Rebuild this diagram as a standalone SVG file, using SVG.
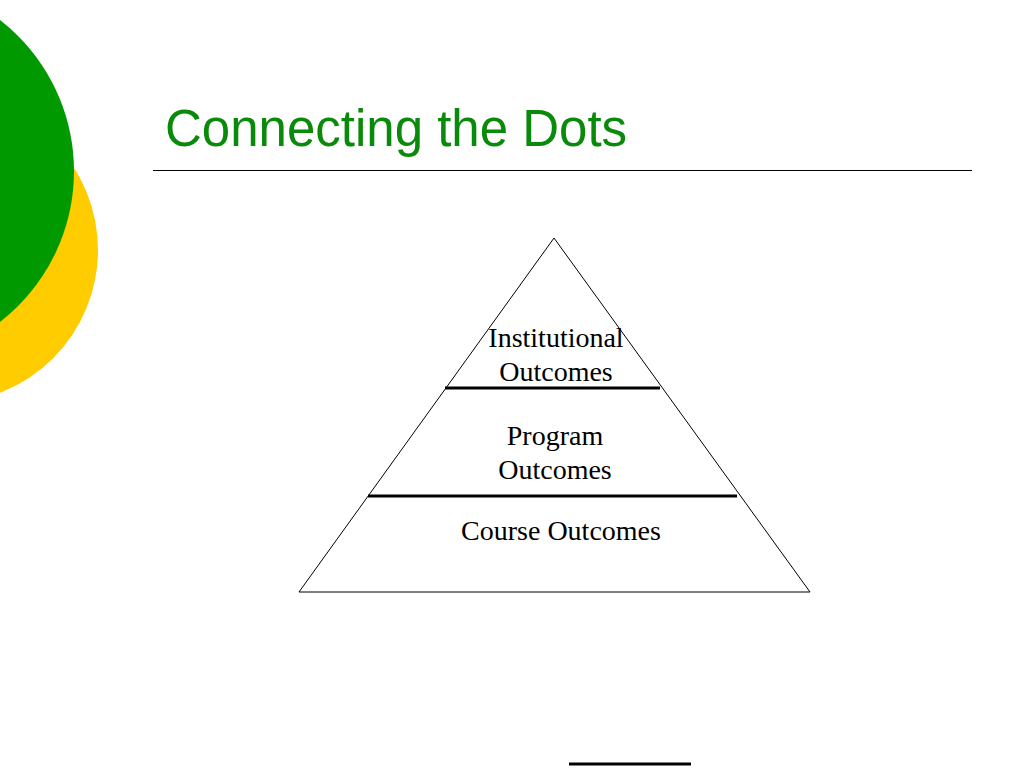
<svg xmlns="http://www.w3.org/2000/svg" width="1024" height="768" viewBox="0 0 1024 768">
  <style>
    .title { font-family: "Liberation Sans", Arial, sans-serif; font-size: 51px; fill: #0a8a0a; }
    .lbl { font-family: "Liberation Serif", "Times New Roman", serif; font-size: 28px; fill: #000; text-anchor: middle; }
    .bar { stroke: #000; stroke-width: 3; fill: none; }
  </style>
  <rect width="1024" height="768" fill="#fff"/>
  <g id="decor">
    <circle cx="-55" cy="250" r="153" fill="#ffcc00"/>
    <circle cx="-117" cy="171" r="191" fill="#009900"/>
  </g>
  <g id="title">
    <text class="title" x="165" y="146">Connecting the Dots</text>
    <line x1="153" y1="170.5" x2="972" y2="170.5" stroke="#000" stroke-width="1.2"/>
  </g>
  <g id="pyramid">
    <polygon points="554,238 810,592 299,592" fill="none" stroke="#000" stroke-width="1"/>
  </g>
  <g id="connectors">
    <line class="bar" x1="445" y1="388" x2="660" y2="388"/>
    <line class="bar" x1="368" y1="496" x2="737" y2="496"/>
  </g>
  <g id="institutional">
    <text class="lbl" x="556" y="347">Institutional</text>
    <text class="lbl" x="556" y="381">Outcomes</text>
  </g>
  <g id="program">
    <text class="lbl" x="555" y="445">Program</text>
    <text class="lbl" x="555" y="479">Outcomes</text>
  </g>
  <g id="course">
    <text class="lbl" x="561" y="540">Course Outcomes</text>
  </g>
  <g id="footer">
    <line x1="569" y1="764" x2="691" y2="764" stroke="#000" stroke-width="3"/>
  </g>
</svg>
